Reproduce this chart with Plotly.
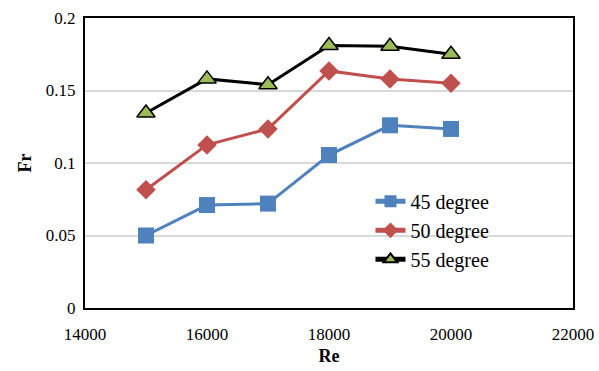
import plotly.graph_objects as go

re_vals = [15000, 16000, 17000, 18000, 19000, 20000]
fr_45 = [0.050, 0.071, 0.072, 0.1055, 0.126, 0.1235]
fr_50 = [0.0815, 0.1125, 0.1235, 0.1635, 0.158, 0.155]
fr_55 = [0.1345, 0.158, 0.154, 0.181, 0.1805, 0.175]

x_ticks = [14000, 16000, 18000, 20000, 22000]
x_tick_text = ["14000", "16000", "18000", "20000", "22000"]
y_ticks = [0, 0.05, 0.1, 0.15, 0.2]
y_tick_text = ["0", "0.05", "0.1", "0.15", "0.2"]

serif = "Liberation Serif"

fig = go.Figure()
fig.add_trace(go.Scatter(
    x=re_vals, y=fr_45, mode="lines+markers", name="45 degree",
    line=dict(color="#4F81BD", width=3),
    marker=dict(symbol="square", size=16, color="#4F81BD"),
))
fig.add_trace(go.Scatter(
    x=re_vals, y=fr_50, mode="lines+markers", name="50 degree",
    line=dict(color="#C0504D", width=3),
    marker=dict(symbol="diamond", size=15, color="#C0504D"),
))
fig.add_trace(go.Scatter(
    x=re_vals, y=fr_55, mode="lines+markers", name="55 degree",
    line=dict(color="#000000", width=3),
    marker=dict(symbol="triangle-up", size=16, color="#9BBB59",
                line=dict(color="#000000", width=1.5)),
))

fig.update_layout(
    width=599, height=371,
    margin=dict(l=85, r=26, t=18, b=63),
    paper_bgcolor="white", plot_bgcolor="white",
    font=dict(family=serif, size=17, color="#000000"),
    legend=dict(x=0.585, y=0.435, xanchor="left", yanchor="top",
                bgcolor="rgba(0,0,0,0)",
                font=dict(family=serif, size=20, color="#000000"),
                tracegroupgap=2, itemsizing="constant"),
    xaxis=dict(
        range=[14000, 22000], tickvals=x_ticks, ticktext=x_tick_text,
        showgrid=False, zeroline=False, automargin=False,
        showline=True, linecolor="#000000", linewidth=2, mirror=True,
        ticks="", ticklabelstandoff=10,
        tickfont=dict(family=serif, size=17, color="#000000"),
        title=dict(text="<b>Re</b>", font=dict(family=serif, size=18),
                   standoff=6),
    ),
    yaxis=dict(
        range=[0, 0.2], tickvals=y_ticks, ticktext=y_tick_text,
        showgrid=True, gridcolor="#D9D9D9", gridwidth=1.5, zeroline=False,
        automargin=False,
        showline=True, linecolor="#000000", linewidth=2, mirror=True,
        ticks="", ticklabelstandoff=4,
        tickfont=dict(family=serif, size=17, color="#000000"),
        title=dict(text="<b>Fr</b>", font=dict(family=serif, size=18),
                   standoff=10),
    ),
)

fig.write_html("out.html")
